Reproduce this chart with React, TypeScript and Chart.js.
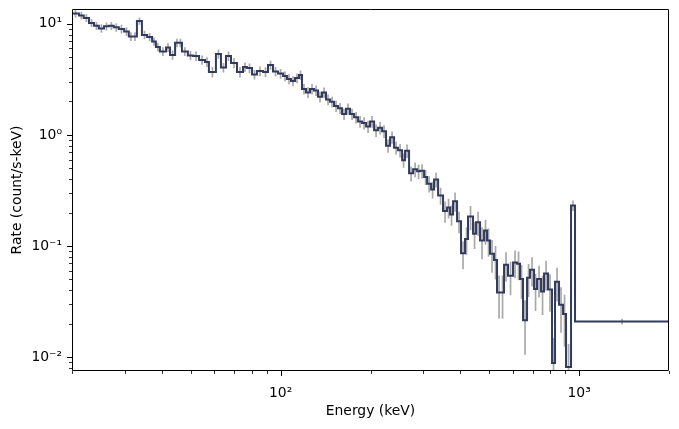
import React, { useEffect, useRef } from 'react';
import { Chart, registerables } from 'chart.js';

Chart.register(...registerables);

// Bin edges (keV), 121 edges -> 120 bins
const binEdges = [
  20.0, 21.1, 21.9, 22.8, 23.7, 24.6, 25.6, 26.6, 27.6, 28.7,
  29.9, 31.0, 32.0, 33.0, 34.3, 35.7, 37.1, 38.2, 39.4, 41.3,
  42.6, 44.3, 45.6, 46.7, 48.9, 50.9, 53.3, 55.8, 57.5, 60.7,
  63.1, 65.6, 68.2, 71.4, 74.8, 77.1, 80.2, 83.3, 87.3, 90.7,
  94.3, 98.0, 101.9, 105.0, 108.3, 111.7, 115.2, 117.9, 121.6, 125.4,
  129.4, 133.4, 137.6, 141.9, 146.4, 151.0, 155.7, 160.6, 165.6, 170.8,
  176.2, 181.7, 187.4, 193.3, 199.3, 205.6, 212.0, 218.7, 225.5, 232.6,
  239.9, 247.4, 255.2, 261.1, 269.3, 277.8, 286.5, 293.2, 302.4, 309.5,
  319.2, 326.6, 336.9, 350.0, 361.0, 369.4, 378.1, 389.9, 402.1, 414.7,
  424.4, 441.1, 451.5, 465.6, 480.2, 491.4, 502.9, 518.7, 530.8, 547.5,
  560.3, 577.8, 600.6, 619.4, 633.9, 648.7, 669.1, 684.7, 706.2, 722.7,
  745.4, 762.8, 786.7, 811.3, 830.3, 856.3, 883.2, 903.8, 939.4, 968.8,
  2000,
];

// Rate (count/s-keV) per bin
const rates = [
  12.4, 11.9, 11.3, 10.2, 9.6, 9.1, 9.5, 9.6, 9.3, 9.0,
  8.55, 7.7, 7.7, 10.6, 7.95, 7.63, 6.95, 6.2, 5.64, 6.13,
  5.25, 6.74, 6.74, 5.64, 5.19, 5.14, 4.73, 4.54, 3.69, 5.36,
  4.05, 5.14, 4.44, 3.69, 4.09, 4.0, 3.5, 3.76, 3.69, 4.26,
  3.72, 3.57, 3.39, 3.19, 3.06, 3.25, 3.46, 2.59, 2.41, 2.59,
  2.51, 2.21, 2.41, 2.08, 1.99, 1.82, 1.74, 1.54, 1.72, 1.54,
  1.44, 1.32, 1.28, 1.19, 1.32, 1.10, 1.16, 1.08, 0.80, 0.953,
  0.766, 0.727, 0.591, 0.72, 0.451, 0.49, 0.47, 0.475, 0.419, 0.364,
  0.323, 0.396, 0.285, 0.207, 0.222, 0.192, 0.253, 0.167, 0.0859, 0.1154,
  0.184, 0.129, 0.164, 0.1119, 0.1377, 0.1119, 0.0854, 0.0749, 0.0382, 0.0382,
  0.0679, 0.054, 0.0712, 0.0693, 0.0504, 0.0215, 0.0518, 0.0612, 0.041, 0.0504,
  0.039, 0.0567, 0.0406, 0.00885, 0.0477, 0.0296, 0.0244, 0.00814, 0.232, 0.0209,
];

// 1-sigma rate errors per bin
const rateErrors = [
  1.0, 0.95, 0.9, 0.85, 0.8, 0.8, 0.8, 0.8, 0.8, 0.8,
  0.75, 0.7, 0.7, 0.8, 0.7, 0.65, 0.6, 0.55, 0.5, 0.55,
  0.5, 0.6, 0.6, 0.5, 0.5, 0.5, 0.45, 0.45, 0.4, 0.5,
  0.4, 0.5, 0.45, 0.4, 0.4, 0.4, 0.35, 0.38, 0.37, 0.4,
  0.37, 0.36, 0.34, 0.33, 0.32, 0.33, 0.34, 0.28, 0.27, 0.28,
  0.27, 0.25, 0.26, 0.23, 0.22, 0.21, 0.2, 0.18, 0.2, 0.18,
  0.17, 0.16, 0.16, 0.15, 0.16, 0.14, 0.15, 0.14, 0.11, 0.12,
  0.1, 0.1, 0.085, 0.1, 0.07, 0.075, 0.07, 0.07, 0.065, 0.06,
  0.055, 0.06, 0.05, 0.045, 0.045, 0.04, 0.05, 0.037, 0.024, 0.032,
  0.045, 0.035, 0.04, 0.036, 0.035, 0.032, 0.028, 0.025, 0.016, 0.016,
  0.02, 0.018, 0.02, 0.02, 0.017, 0.011, 0.017, 0.018, 0.015, 0.016,
  0.015, 0.017, 0.015, 0.006, 0.016, 0.013, 0.012, 0.005, 0.025, 0.0012,
];

const xRange = [20, 2000];
const yRange = [0.0075, 13.6];
const xMajorTicks = [100, 1000];
const xTickLabels = ['10²', '10³'];
const xMinorTicks = [20, 30, 40, 50, 60, 70, 80, 90, 200, 300, 400, 500, 600, 700, 800, 900, 2000];
const yMajorTicks = [0.01, 0.1, 1, 10];
const yTickLabels = ['10⁻²', '10⁻¹', '10⁰', '10¹'];
const yMinorTicks = [
  0.008, 0.009, 0.02, 0.03, 0.04, 0.05, 0.06, 0.07, 0.08, 0.09,
  0.2, 0.3, 0.4, 0.5, 0.6, 0.7, 0.8, 0.9, 2, 3, 4, 5, 6, 7, 8, 9,
];

const FONT = 'DejaVu Sans';

const frameTicksPlugin = {
  id: 'frameTicks',
  afterDraw(chart: any) {
    const { ctx, chartArea: a, scales } = chart;
    const xs = scales.x;
    const ys = scales.y;
    ctx.save();
    ctx.strokeStyle = '#000';
    ctx.lineWidth = 1;
    ctx.beginPath();
    ctx.rect(a.left + 0.5, a.top + 0.5, a.right - a.left - 1, a.bottom - a.top - 1);
    ctx.stroke();
    const drawX = (vals: number[], len: number) => {
      vals.forEach((v) => {
        const px = Math.round(xs.getPixelForValue(v)) + 0.5;
        ctx.beginPath();
        ctx.moveTo(px, a.bottom);
        ctx.lineTo(px, a.bottom + len);
        ctx.stroke();
      });
    };
    const drawY = (vals: number[], len: number) => {
      vals.forEach((v) => {
        const py = Math.round(ys.getPixelForValue(v)) + 0.5;
        ctx.beginPath();
        ctx.moveTo(a.left, py);
        ctx.lineTo(a.left - len, py);
        ctx.stroke();
      });
    };
    drawX(xMajorTicks, 5);
    drawY(yMajorTicks, 5);
    ctx.lineWidth = 0.8;
    drawX(xMinorTicks, 3);
    drawY(yMinorTicks, 3);
    ctx.restore();
  },
};

const zeroPad = (s: any) => {
  s.paddingTop = 0;
  s.paddingBottom = 0;
  s.paddingLeft = 0;
  s.paddingRight = 0;
};

export default function App() {
  const ref = useRef<HTMLCanvasElement | null>(null);

  useEffect(() => {
    document.body.style.margin = '0';
    const canvas = ref.current;
    if (!canvas) return;

    const stepData = rates.map((r, i) => ({ x: binEdges[i], y: r }));
    stepData.push({ x: binEdges[binEdges.length - 1], y: rates[rates.length - 1] });

    const errData: { x: number; y: number | null }[] = [];
    rates.forEach((r, i) => {
      const c = Math.sqrt(binEdges[i] * binEdges[i + 1]);
      const lo = Math.max(r - rateErrors[i], 1e-5);
      errData.push({ x: c, y: lo });
      errData.push({ x: c, y: r + rateErrors[i] });
      errData.push({ x: c, y: null });
    });

    const chart = new Chart(canvas, {
      type: 'line',
      data: {
        datasets: [
          {
            label: 'Rate',
            data: stepData,
            stepped: 'before',
            borderColor: '#323b5e',
            borderWidth: 2,
            pointRadius: 0,
            fill: false,
            order: 0,
          },
          {
            label: 'Error',
            data: errData as any,
            borderColor: 'rgba(140,140,140,0.75)',
            borderWidth: 1.7,
            pointRadius: 0,
            spanGaps: false,
            fill: false,
            order: 1,
          },
        ],
      },
      options: {
        animation: false,
        responsive: false,
        layout: { padding: { top: 9, right: 10, left: 0, bottom: 0 } },
        plugins: {
          legend: { display: false },
          tooltip: { enabled: false },
        },
        scales: {
          x: {
            type: 'logarithmic',
            min: xRange[0],
            max: xRange[1],
            grid: { display: false, drawTicks: false },
            border: { display: false },
            afterBuildTicks: (s: any) => {
              s.ticks = xMajorTicks.map((v) => ({ value: v }));
            },
            afterFit: (s: any) => {
              s.height = 58;
              zeroPad(s);
            },
            ticks: {
              autoSkip: false,
              maxRotation: 0,
              padding: 14,
              color: '#000',
              font: { family: FONT, size: 13.9 },
              callback: (_v: any, i: number) => xTickLabels[i],
            },
            title: {
              display: true,
              text: 'Energy (keV)',
              color: '#000',
              font: { family: FONT, size: 13.9 },
              padding: { top: 0, bottom: 9 },
            },
          },
          y: {
            type: 'logarithmic',
            min: yRange[0],
            max: yRange[1],
            grid: { display: false, drawTicks: false },
            border: { display: false },
            afterBuildTicks: (s: any) => {
              s.ticks = yMajorTicks.map((v) => ({ value: v }));
            },
            afterFit: (s: any) => {
              s.width = 72;
              zeroPad(s);
            },
            ticks: {
              autoSkip: false,
              padding: 10,
              color: '#000',
              font: { family: FONT, size: 13.9 },
              callback: (_v: any, i: number) => yTickLabels[i],
            },
            title: {
              display: true,
              text: 'Rate (count/s-keV)',
              color: '#000',
              font: { family: FONT, size: 13.9 },
              padding: { top: 9, bottom: 0 },
            },
          },
        },
      },
      plugins: [frameTicksPlugin],
    });

    return () => chart.destroy();
  }, []);

  return (
    <div style={{ width: 679, height: 429 }}>
      <canvas ref={ref} width={679} height={429} style={{ display: 'block' }} />
    </div>
  );
}
